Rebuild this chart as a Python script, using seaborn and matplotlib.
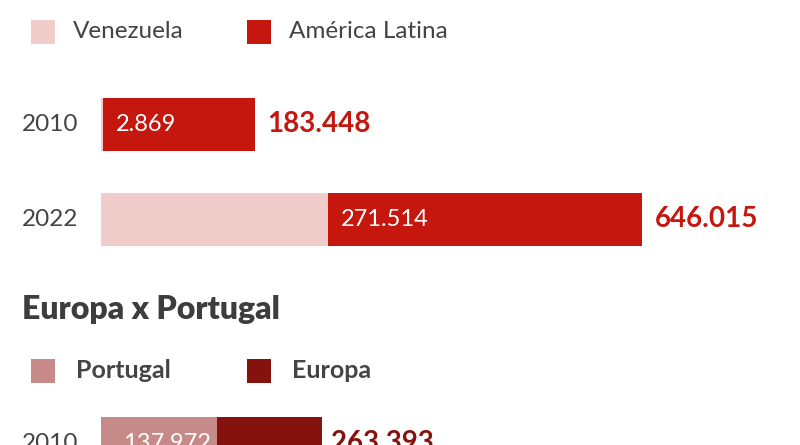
import matplotlib
matplotlib.use("Agg")
import matplotlib.pyplot as plt
from matplotlib.patches import Rectangle
import seaborn as sns

# values in thousands, as printed on the chart
latam_years = ["2010", "2022"]
venezuela = [2.869, 271.514]
america_latina = [183.448, 646.015]

europe_years = ["2010"]
portugal = [137.972]
europa = [263.393]

venezuela_labels = ["2.869", "271.514"]
latam_labels = ["183.448", "646.015"]
portugal_labels = ["137.972"]
europa_labels = ["263.393"]

C_VEN = "#f0cccb"
C_LAT = "#c5170e"
C_POR = "#c68a88"
C_EUR = "#85120c"
C_TXT = "#444444"

sns.set_theme(style="white")
plt.rcParams["font.family"] = ["Lato", "DejaVu Sans"]

W, H = 800, 445
fig = plt.figure(figsize=(W / 100, H / 100), dpi=100)
fig.patch.set_facecolor("white")

# common x scale: bar start at 101 px, 646.015 ends at ~642 px
px_per_unit = (642 - 101) / max(america_latina)
xlim = (-101 / px_per_unit, (W - 101) / px_per_unit)


def axes_px(top, bottom):
    return fig.add_axes([0, 1 - bottom / H, 1, (bottom - top) / H])


bar_w = 53 / 95

# --- América Latina x Venezuela
ax1 = axes_px(77, 266.5)
sns.barplot(x=america_latina, y=latam_years, orient="h", color=C_LAT,
            width=bar_w, linewidth=0, saturation=1, ax=ax1)
sns.barplot(x=venezuela, y=latam_years, orient="h", color=C_VEN,
            width=bar_w, linewidth=0, saturation=1, ax=ax1)
ax1.set_xlim(*xlim)
ax1.set_ylim(1.5, -0.5)
ax1.axis("off")

for i, yr in enumerate(latam_years):
    ax1.annotate(yr, (0, i), xytext=(-79 * 0.72, 0), textcoords="offset points",
                 ha="left", va="center", fontsize=17.5, color=C_TXT)
    ax1.annotate(venezuela_labels[i], (venezuela[i], i), xytext=(9, 0),
                 textcoords="offset points", ha="left", va="center",
                 fontsize=17, color="white")
    ax1.annotate(latam_labels[i], (america_latina[i], i), xytext=(9, 0),
                 textcoords="offset points", ha="left", va="center",
                 fontsize=20, fontweight="bold", color=C_LAT)

# --- Europa x Portugal (cut off at the bottom of the image)
ax2 = axes_px(396, 491)
sns.barplot(x=europa, y=europe_years, orient="h", color=C_EUR,
            width=bar_w, linewidth=0, saturation=1, ax=ax2)
sns.barplot(x=portugal, y=europe_years, orient="h", color=C_POR,
            width=bar_w, linewidth=0, saturation=1, ax=ax2)
ax2.set_xlim(*xlim)
ax2.set_ylim(0.5, -0.5)
ax2.axis("off")

for i, yr in enumerate(europe_years):
    ax2.annotate(yr, (0, i), xytext=(-79 * 0.72, 0), textcoords="offset points",
                 ha="left", va="center", fontsize=17.5, color=C_TXT)
    ax2.annotate(portugal_labels[i], (portugal[i], i), xytext=(-4, 0),
                 textcoords="offset points", ha="right", va="center",
                 fontsize=17, color="white")
    ax2.annotate(europa_labels[i], (europa[i], i), xytext=(7, 0),
                 textcoords="offset points", ha="left", va="center",
                 fontsize=20, fontweight="bold", color=C_EUR)


# --- legends and heading
def legend_item(x_sq, y_c, color, label, x_txt, size, weight="normal"):
    fig.add_artist(Rectangle((x_sq / W, 1 - (y_c + 12) / H), 24 / W, 24 / H,
                             transform=fig.transFigure, color=color, lw=0))
    fig.text(x_txt / W, 1 - y_c / H, label, ha="left", va="center",
             fontsize=size, color=C_TXT, fontweight=weight)


legend_item(31, 32, C_VEN, "Venezuela", 73, 17.5)
legend_item(247, 32, C_LAT, "América Latina", 289, 17.5)

fig.text(22 / W, 1 - 310 / H, "Europa x Portugal", ha="left", va="center",
         fontsize=23, fontweight="heavy", color="#3d3d3d")

legend_item(31, 371, C_POR, "Portugal", 76, 18, weight="bold")
legend_item(247, 371, C_EUR, "Europa", 292, 18, weight="bold")

fig.savefig("out.png", dpi=100, facecolor="white")
